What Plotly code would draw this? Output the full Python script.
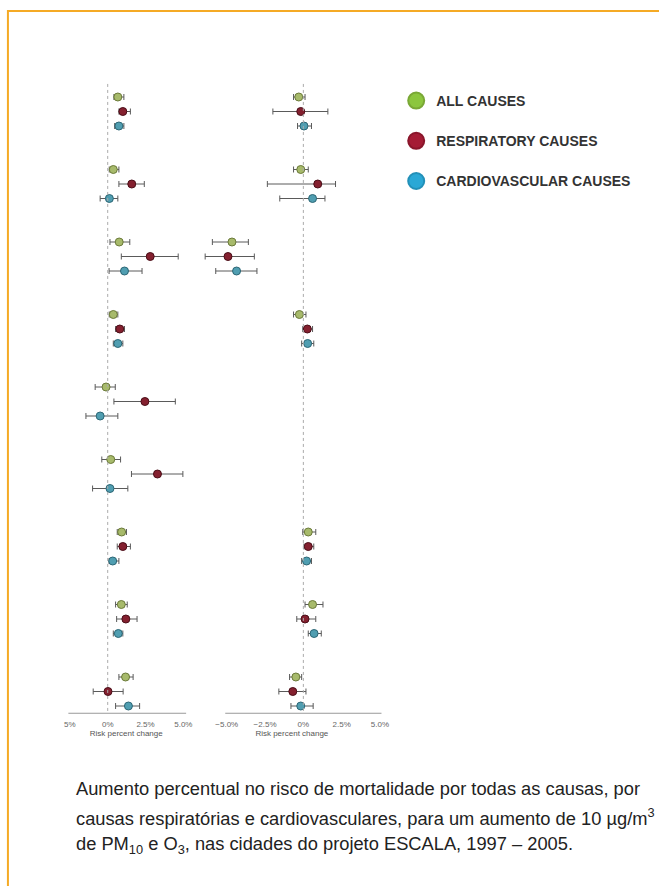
import plotly.graph_objects as go

# City groups (top to bottom) and the three causes drawn per group
n_groups = 9
causes = ["ALL CAUSES", "RESPIRATORY CAUSES", "CARDIOVASCULAR CAUSES"]

# PM10: percent change in risk (estimate, lower CI, upper CI)
pm10_all = [0.67, 0.37, 0.76, 0.37, -0.11, 0.20, 0.92, 0.90, 1.18]
pm10_all_lo = [0.41, 0.10, 0.15, 0.10, -0.83, -0.39, 0.63, 0.52, 0.74]
pm10_all_hi = [1.07, 0.74, 1.46, 0.67, 0.50, 0.85, 1.24, 1.29, 1.68]
pm10_resp = [1.00, 1.59, 2.81, 0.80, 2.46, 3.29, 1.00, 1.20, 0.02]
pm10_resp_lo = [0.74, 0.74, 0.90, 0.52, 0.41, 1.57, 0.63, 0.59, -0.96]
pm10_resp_hi = [1.50, 2.42, 4.66, 1.11, 4.47, 4.97, 1.50, 1.94, 1.02]
pm10_cardio = [0.74, 0.11, 1.11, 0.67, -0.50, 0.15, 0.33, 0.70, 1.37]
pm10_cardio_lo = [0.46, -0.50, 0.09, 0.37, -1.44, -1.00, 0.09, 0.37, 0.52]
pm10_cardio_hi = [1.07, 0.67, 2.27, 1.00, 0.67, 1.33, 0.74, 1.00, 2.11]

# O3: percent change in risk (no estimates for groups 5 and 6)
o3_all = [-0.30, -0.17, -4.66, -0.26, None, None, 0.32, 0.60, -0.49]
o3_all_lo = [-0.64, -0.64, -5.94, -0.64, None, None, -0.04, 0.11, -0.90]
o3_all_hi = [0.11, 0.32, -3.59, 0.17, None, None, 0.81, 1.28, -0.11]
o3_resp = [-0.17, 0.94, -4.92, 0.26, None, None, 0.32, 0.11, -0.69]
o3_resp_lo = [-1.99, -2.35, -6.41, -0.04, None, None, 0.04, -0.43, -1.60]
o3_resp_hi = [1.60, 2.10, -3.20, 0.60, None, None, 0.68, 0.81, 0.17]
o3_cardio = [0.04, 0.60, -4.36, 0.28, None, None, 0.21, 0.70, -0.17]
o3_cardio_lo = [-0.38, -1.54, -5.72, -0.11, None, None, -0.11, 0.32, -0.81]
o3_cardio_hi = [0.53, 1.41, -3.03, 0.68, None, None, 0.53, 1.17, 0.64]

pm10_ticks = [-2.5, 0, 2.5, 5.0]
pm10_ticktext = ["5%", "0%", "2.5%", "5.0%"]
o3_ticks = [-5.0, -2.5, 0, 2.5, 5.0]
o3_ticktext = ["\u22125.0%", "\u22122.5%", "0%", "2.5%", "5.0%"]

caption_lines = [
    "Aumento percentual no risco de mortalidade por todas as causas, por",
    "causas respiratórias e cardiovasculares, para um aumento de 10 µg/m<sup>3</sup>",
    "de PM<sub>10</sub> e O<sub>3</sub>, nas cidades do projeto ESCALA, 1997 – 2005.",
]

W, H = 665, 886
fill = ["#a7ba6b", "#84202f", "#509eb1"]
edge = ["#6b7a3a", "#4a0e18", "#2c6675"]
legend_fill = ["#8cc63e", "#a51c35", "#2aa8d6"]
legend_edge = ["#7aa836", "#8a162b", "#2390b8"]
SANS = "Liberation Sans, Arial, sans-serif"

def px_x(p):
    return p / W

def px_y(p):
    return 1 - p / H

fig = go.Figure()

pm10 = [(pm10_all, pm10_all_lo, pm10_all_hi),
        (pm10_resp, pm10_resp_lo, pm10_resp_hi),
        (pm10_cardio, pm10_cardio_lo, pm10_cardio_hi)]
o3 = [(o3_all, o3_all_lo, o3_all_hi),
      (o3_resp, o3_resp_lo, o3_resp_hi),
      (o3_cardio, o3_cardio_lo, o3_cardio_hi)]

for axis_id, series in (("", pm10), ("2", o3)):
    for k, (est, lo, hi) in enumerate(series):
        xs, ys, plus, minus = [], [], [], []
        for g in range(n_groups):
            if est[g] is None:
                continue
            xs.append(est[g])
            ys.append(g * 5 + k)
            plus.append(hi[g] - est[g])
            minus.append(est[g] - lo[g])
        fig.add_trace(go.Scatter(
            x=xs, y=ys, mode="markers", showlegend=False,
            xaxis="x" + axis_id, yaxis="y" + axis_id,
            marker=dict(size=8, color=fill[k], line=dict(color=edge[k], width=1)),
            error_x=dict(type="data", symmetric=False, array=plus, arrayminus=minus,
                         color="#5a5a5a", thickness=1, width=3),
            cliponaxis=False,
        ))

# Legend entries
for k, name in enumerate(causes):
    fig.add_trace(go.Scatter(
        x=[None], y=[None], mode="markers", name=name, legendgroup=name,
        marker=dict(size=16, color=legend_fill[k], line=dict(color=legend_edge[k], width=2)),
    ))

y_dom = [px_y(714.7), px_y(82.5)]
y_rng = [42.6, -1.0]
tick_font = dict(family=SANS, size=8, color="#666")
title_font = dict(family=SANS, size=8, color="#555")

common_x = dict(showgrid=False, zeroline=False, showline=False, ticks="",
                tickfont=tick_font, ticklabelstandoff=3, fixedrange=True)
common_y = dict(showgrid=False, zeroline=False, showline=False, showticklabels=False,
                range=y_rng, domain=y_dom, fixedrange=True)

fig.update_layout(
    width=W, height=H,
    margin=dict(l=0, r=0, t=0, b=0),
    paper_bgcolor="white", plot_bgcolor="white",
    xaxis=dict(domain=[px_x(64.9), px_x(186.6)], range=[-2.75, 5.2],
               tickvals=pm10_ticks, ticktext=pm10_ticktext,
               title=dict(text="Risk percent change", font=title_font, standoff=2),
               **common_x),
    yaxis=dict(anchor="x", **common_y),
    xaxis2=dict(domain=[px_x(199.6), px_x(387.2)], range=[-6.8, 5.3], anchor="y2",
                tickvals=o3_ticks, ticktext=o3_ticktext,
                title=dict(text="Risk percent change", font=title_font, standoff=2),
                **common_x),
    yaxis2=dict(anchor="x2", **common_y),
    legend=dict(x=px_x(399), y=px_y(85), xanchor="left", yanchor="top",
                font=dict(family=SANS, size=14, color="#333", weight="bold"),
                tracegroupgap=19, itemsizing="trace", bgcolor="rgba(0,0,0,0)"),
    showlegend=True,
)

shapes = []
# Baselines and dotted zero reference lines
for xr, yr, x0, x1 in (("x", "y", -2.6, 5.2), ("x2", "y2", -5.1, 5.1)):
    shapes.append(dict(type="line", xref=xr, yref=yr, x0=x0, x1=x1, y0=42.5, y1=42.5,
                       line=dict(color="#999", width=1)))
    shapes.append(dict(type="line", xref=xr, yref=yr, x0=0, x1=0, y0=-0.9, y1=42.5,
                       line=dict(color="#aaa", width=1, dash="dot")))
# Page frame
shapes.append(dict(type="path", xref="paper", yref="paper",
                   path=f"M {px_x(6)} 0 L {px_x(6)} {px_y(11)} L 1 {px_y(11)}",
                   line=dict(color="#f5aa25", width=2)))
fig.update_layout(shapes=shapes)

# Caption
for i, line in enumerate(caption_lines):
    fig.add_annotation(
        xref="paper", yref="paper", x=px_x(73), y=px_y(788 + i * 28.5),
        xanchor="left", yanchor="middle", showarrow=False, align="left",
        text=line,
        font=dict(family=SANS, size=18.3, color="#222"),
    )

fig.write_html("out.html")
